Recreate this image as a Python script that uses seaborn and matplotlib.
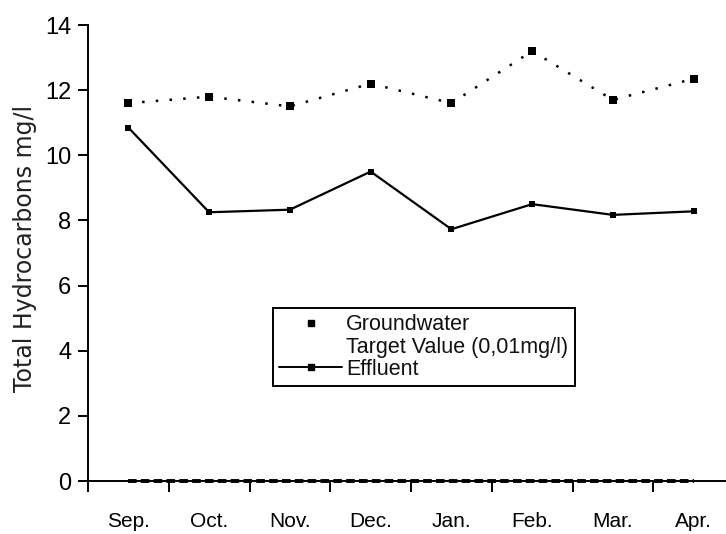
import numpy as np
import pandas as pd
import matplotlib
matplotlib.use("Agg")
import matplotlib.pyplot as plt
from matplotlib.lines import Line2D
import seaborn as sns

months = ["Sep.", "Oct.", "Nov.", "Dec.", "Jan.", "Feb.", "Mar.", "Apr."]
groundwater = [11.6, 11.8, 11.5, 12.2, 11.6, 13.2, 11.7, 12.35]
effluent = [10.85, 8.25, 8.33, 9.5, 7.73, 8.5, 8.17, 8.28]
target = [0.01] * 8
y_ticks = [0, 2, 4, 6, 8, 10, 12, 14]

sns.set_theme(style="white")
plt.rcParams["font.family"] = ["Liberation Sans", "DejaVu Sans"]

pos = np.arange(len(months))
df = pd.DataFrame({"pos": pos, "Groundwater": groundwater,
                   "Effluent": effluent, "Target": target})

W, H = 726, 534
fig = plt.figure(figsize=(W / 100, H / 100), dpi=100)
left, right, top, bottom = 88, 730, 25, 481
ax = fig.add_axes([left / W, 1 - bottom / H, (right - left) / W, (bottom - top) / H])

sns.lineplot(data=df, x="pos", y="Groundwater", ax=ax, color="black",
             linestyle=(0, (1, 4.5)), linewidth=1.8, marker="s", markersize=6,
             markeredgewidth=0, label="_gw")
sns.lineplot(data=df, x="pos", y="Effluent", ax=ax, color="black",
             linestyle="-", linewidth=1.6, marker="s", markersize=5,
             markeredgewidth=0, label="_ef")
sns.lineplot(data=df, x="pos", y="Target", ax=ax, color="black",
             linestyle=(0, (2.2, 1.1)), linewidth=2.8, label="_tv",
             clip_on=False, zorder=5)

ax.set_xlim(-0.5, 7.45)
ax.set_ylim(0, 14)
ax.set_yticks(y_ticks)
ax.set_yticklabels([str(t) for t in y_ticks], fontsize=17)
ax.set_xticks(pos)
ax.set_xticklabels(months, fontsize=15)
ax.set_xticks(np.arange(-0.5, 7.0, 1.0), minor=True)
ax.tick_params(axis="x", which="major", length=0, pad=22, colors="black")
ax.tick_params(axis="x", which="minor", length=8, width=1.4, direction="out",
               color="black", bottom=True)
ax.tick_params(axis="y", length=7, width=1.4, direction="out", pad=5,
               color="black", left=True, labelcolor="black")

for s in ["top", "right"]:
    ax.spines[s].set_visible(False)
for s in ["left", "bottom"]:
    ax.spines[s].set_color("black")
    ax.spines[s].set_linewidth(1.4)

ax.set_xlabel("")
ax.set_ylabel("Total Hydrocarbons mg/l", fontsize=17, family=["DejaVu Sans"],
              color="#222222")
ax.yaxis.set_label_coords(-0.08, 0.51)

handles = [
    Line2D([], [], color="black", linestyle="none", marker="s", markersize=5),
    Line2D([], [], color="none", linestyle="none"),
    Line2D([], [], color="black", linestyle="-", linewidth=1.4, marker="s",
           markersize=5),
]
labels = ["Groundwater", "Target Value (0,01mg/l)", "Effluent"]
leg = ax.legend(handles, labels, loc="upper left",
                bbox_to_anchor=((273 - left) / (right - left), (bottom - 308) / (bottom - top)),
                fontsize=15.5, frameon=True, fancybox=False, edgecolor="black",
                framealpha=1, handlelength=2.9, handletextpad=0.2,
                labelspacing=0.05, borderpad=0.3, borderaxespad=0)
leg.get_frame().set_linewidth(1.4)
for t in leg.get_texts():
    t.set_color("#111111")

fig.savefig("out.png", dpi=100, facecolor="white")
